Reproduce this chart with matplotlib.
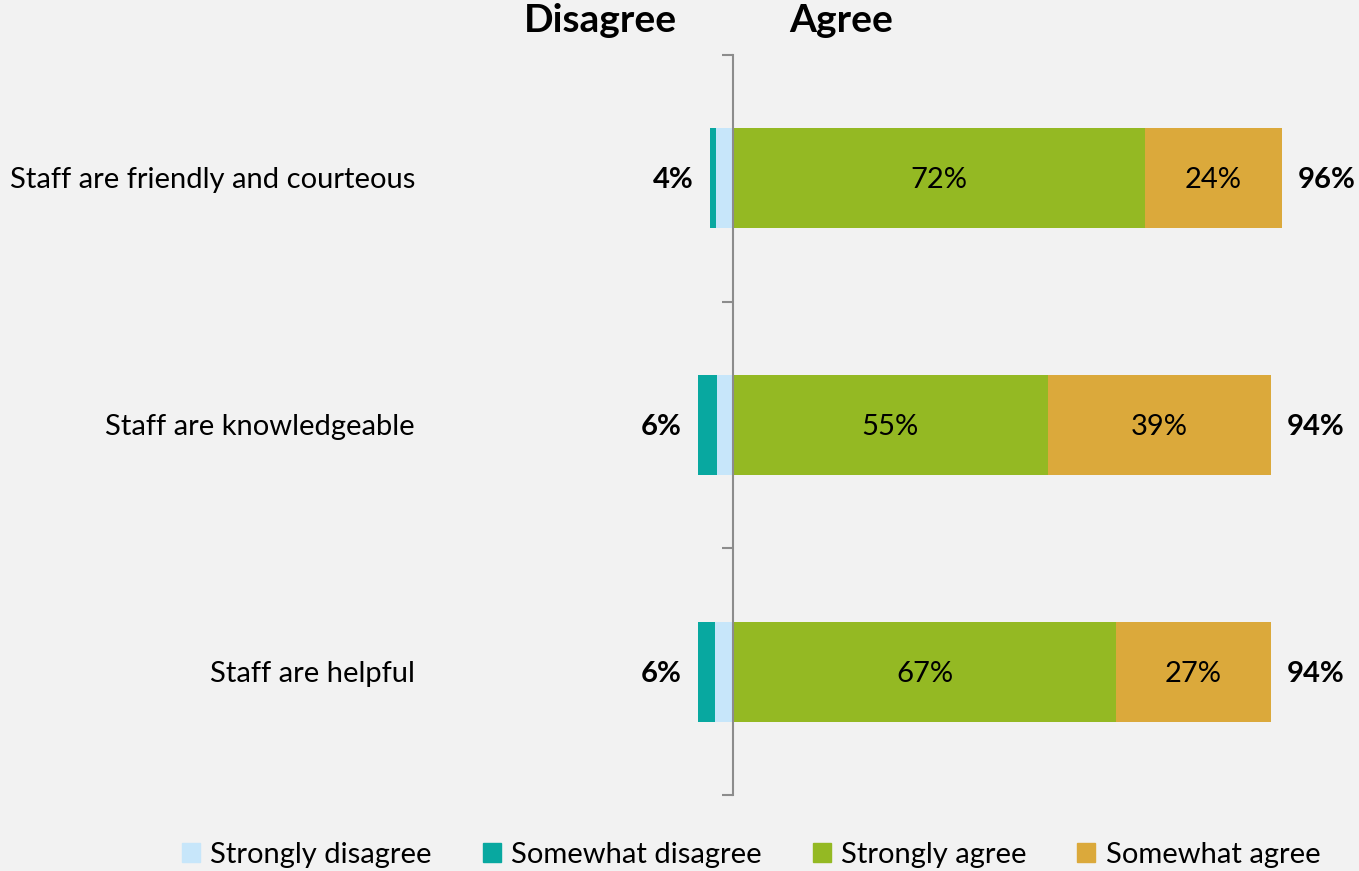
import numpy as np
import matplotlib.pyplot as plt
from matplotlib.patches import Patch

categories = ['Staff are friendly and courteous', 'Staff are knowledgeable', 'Staff are helpful']
strongly_disagree = [3.0, 2.8, 3.1]
somewhat_disagree = [1.0, 3.4, 3.0]
strongly_agree = [72, 55, 67]
somewhat_agree = [24, 39, 27]
disagree_total = ['4%', '6%', '6%']
agree_total = ['96%', '94%', '94%']
agree_labels = [['72%', '55%', '67%'], ['24%', '39%', '27%']]

c_sd = '#c7e6fa'
c_swd = '#08a8a0'
c_sa = '#94b923'
c_swa = '#dba93b'
bg = '#f2f2f2'

plt.rcParams['font.family'] = ['Lato', 'DejaVu Sans']

W, H = 1359, 871
fig = plt.figure(figsize=(W / 100, H / 100), dpi=100, facecolor=bg)
ax = fig.add_axes([0, 1 - 795 / H, 1, (795 - 55) / H])
ax.set_facecolor(bg)

px = 5.72  # pixels per percent
ax.set_xlim(-733 / px, (W - 733) / px)
ax.set_ylim(2.5, -0.5)

y = np.arange(len(categories))
sd = np.array(strongly_disagree)
swd = np.array(somewhat_disagree)
sa = np.array(strongly_agree)
swa = np.array(somewhat_agree)
h = 0.405

ax.barh(y, -sd, height=h, color=c_sd, zorder=2)
ax.barh(y, -swd, left=-sd, height=h, color=c_swd, zorder=2)
ax.barh(y, sa, height=h, color=c_sa, zorder=2)
ax.barh(y, swa, left=sa, height=h, color=c_swa, zorder=2)

fs = 21
ty = y + 0.008
for i in range(len(categories)):
    ax.text(sa[i] / 2, ty[i], agree_labels[0][i], ha='center', va='center', fontsize=fs)
    ax.text(sa[i] + swa[i] / 2, ty[i], agree_labels[1][i], ha='center', va='center', fontsize=fs)
    ax.text(sa[i] + swa[i] + 16 / px, ty[i], agree_total[i], ha='left', va='center',
            fontsize=fs, fontweight='bold')
    ax.text(-(sd[i] + swd[i]) - 16 / px, ty[i], disagree_total[i], ha='right', va='center',
            fontsize=fs, fontweight='bold')
    ax.text((415 - 733) / px, ty[i], categories[i], ha='right', va='center', fontsize=fs)

for s in ['top', 'right', 'bottom']:
    ax.spines[s].set_visible(False)
ax.spines['left'].set_position(('data', 0))
ax.spines['left'].set_color('#8c8c8c')
ax.spines['left'].set_linewidth(1.5)
ax.spines['left'].set_zorder(3)
ax.set_xticks([])
ax.set_yticks(np.arange(-0.5, len(categories), 1.0))
ax.set_yticklabels([])
ax.tick_params(axis='y', direction='out', length=8, width=1.5, color='#8c8c8c')

fig.text(600 / W, 1 - 20 / H, 'Disagree', ha='center', va='center', fontsize=28, fontweight='bold')
fig.text(841 / W, 1 - 20 / H, 'Agree', ha='center', va='center', fontsize=28, fontweight='bold')

handles = [Patch(color=c_sd, label='Strongly disagree'),
           Patch(color=c_swd, label='Somewhat disagree'),
           Patch(color=c_sa, label='Strongly agree'),
           Patch(color=c_swa, label='Somewhat agree')]
fig.legend(handles=handles, loc='center', bbox_to_anchor=(751 / W, 1 - 855 / H), ncol=4,
           frameon=False, fontsize=fs, handlelength=0.62, handleheight=0.62,
           handletextpad=0.35, columnspacing=1.75)

fig.savefig('out.png', dpi=100, facecolor=bg)
